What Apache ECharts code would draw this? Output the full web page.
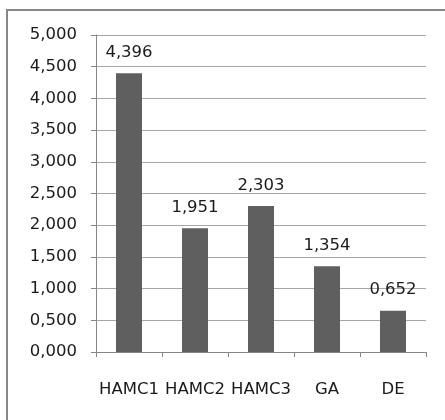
<!DOCTYPE html>
<html>
<head>
    <meta charset="UTF-8">
    <title>Bar chart</title>
    <script src="https://cdn.jsdelivr.net/npm/echarts@6/dist/echarts.min.js"></script>
    <style>
        html, body { margin: 0; padding: 0; background: #fff; }
        #chart { width: 445px; height: 420px; }
    </style>
</head>
<body>
    <div id="chart"></div>
    <script type="text/javascript">
        // data
        var categories = ['HAMC1', 'HAMC2', 'HAMC3', 'GA', 'DE'];
        var values = [4.396, 1.951, 2.303, 1.354, 0.652];
        var yMin = 0, yMax = 5, yStep = 0.5;

        function fmt(v) {
            return v.toFixed(3).replace('.', ',');
        }

        var chart = echarts.init(document.getElementById('chart'));
        var font = 'DejaVu Sans';

        var option = {
            animation: false,
            grid: { left: 96, right: 19, top: 35, bottom: 68 },
            // outer frame
            graphic: [{
                type: 'rect',
                shape: { x: 7, y: 10, width: 460, height: 440 },
                style: { fill: 'none', stroke: '#878787', lineWidth: 2 },
                silent: true
            }],
            xAxis: {
                type: 'category',
                data: categories,
                axisLine: { lineStyle: { color: '#868686', width: 1 } },
                axisTick: { show: true, length: 5, lineStyle: { color: '#868686' } },
                axisLabel: { color: '#1a1a1a', fontFamily: font, fontSize: 16.5, margin: 29, interval: 0 }
            },
            yAxis: {
                type: 'value',
                min: yMin,
                max: yMax,
                interval: yStep,
                axisLine: { show: true, lineStyle: { color: '#868686', width: 1 } },
                axisTick: { show: true, length: 5, lineStyle: { color: '#868686' } },
                splitLine: { lineStyle: { color: '#a6a6a6', width: 1 } },
                axisLabel: { color: '#1a1a1a', fontFamily: font, fontSize: 16.5, margin: 19, formatter: fmt }
            },
            series: [{
                type: 'bar',
                data: values,
                barWidth: 26,
                itemStyle: { color: '#5f5f5f' },
                label: {
                    show: true,
                    position: 'top',
                    distance: 12,
                    color: '#1a1a1a',
                    fontFamily: font,
                    fontSize: 16.5,
                    formatter: function (p) { return fmt(p.value); }
                }
            }]
        };

        chart.setOption(option);
    </script>
</body>
</html>
